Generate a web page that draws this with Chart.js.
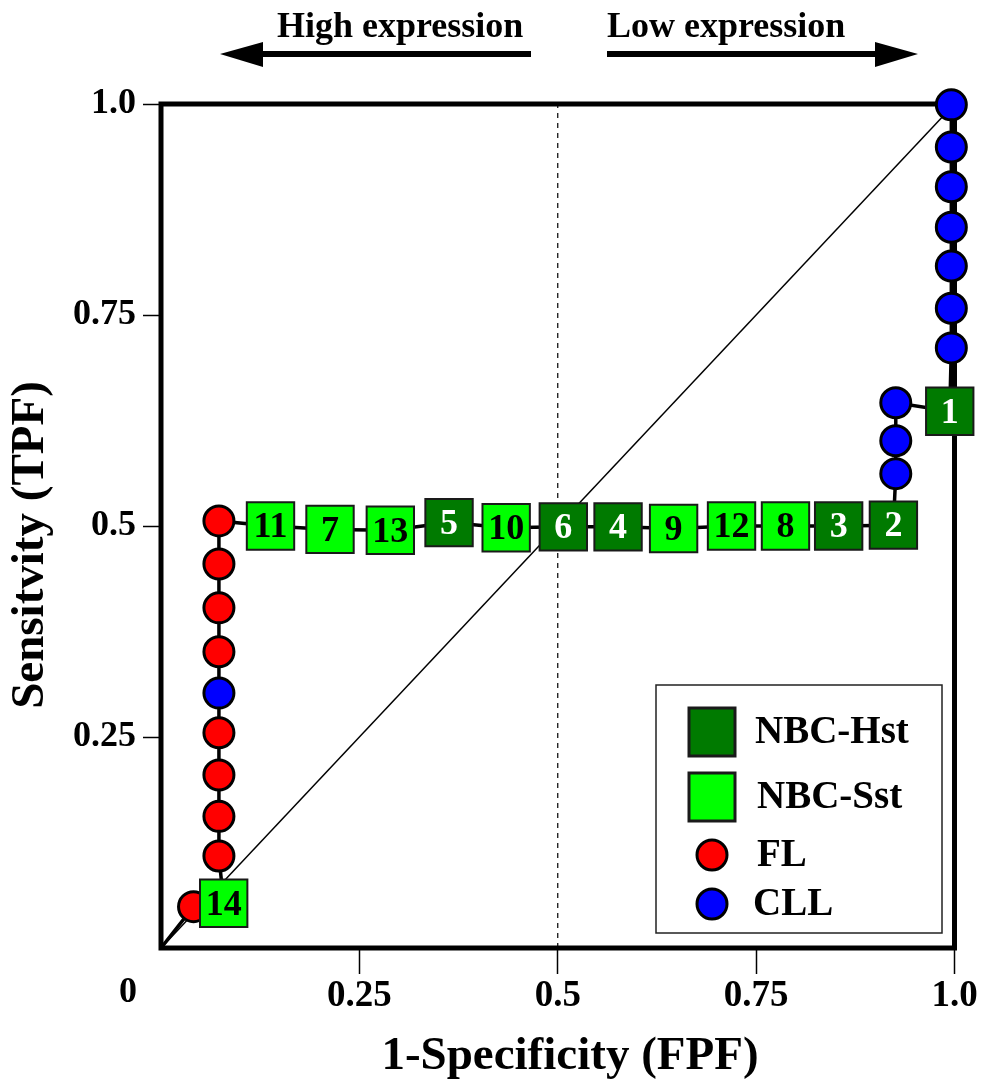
<!DOCTYPE html>
<html><head><meta charset="utf-8">
<script src="https://cdn.jsdelivr.net/npm/chart.js@4.4.0/dist/chart.umd.min.js"></script>
<style>html,body{margin:0;padding:0;background:#fff}#wrap{width:990px;height:1087px}</style>
</head><body><div id="wrap"><canvas id="c" width="990" height="1087"></canvas></div>
<script>
// ROC samples in threshold order (x = 1-Specificity, y = Sensitivity)
const rocGroup = ['FL','NBC-Sst','FL','FL','FL','FL','CLL','FL','FL','FL','FL',
  'NBC-Sst','NBC-Sst','NBC-Sst','NBC-Hst','NBC-Sst','NBC-Hst','NBC-Hst','NBC-Sst','NBC-Sst','NBC-Sst','NBC-Hst','NBC-Hst',
  'CLL','CLL','CLL','NBC-Hst','CLL','CLL','CLL','CLL','CLL','CLL','CLL'];
const rocLabel = ['','14','','','','','','','','','',
  '11','7','13','5','10','6','4','9','12','8','3','2',
  '','','','1','','','','','','',''];
const rocX = [0.041,0.079,0.073,0.073,0.073,0.073,0.073,0.073,0.073,0.073,0.073,
  0.138,0.213,0.289,0.363,0.435,0.507,0.576,0.646,0.719,0.787,0.854,0.923,
  0.926,0.926,0.926,0.994,0.996,0.996,0.996,0.996,0.996,0.996,0.996];
const rocY = [0.049,0.053,0.109,0.156,0.205,0.255,0.302,0.351,0.403,0.455,0.506,
  0.500,0.496,0.495,0.504,0.498,0.499,0.499,0.497,0.500,0.500,0.500,0.501,
  0.562,0.601,0.646,0.636,0.711,0.758,0.808,0.854,0.902,0.949,0.999];
const rocOrigin = [0, 0];
const diagonal = [[0,0],[1,1]];
const midLine = [[0.5,0],[0.5,1]];
const xTicks = [0, 0.25, 0.5, 0.75, 1.0];
const xTickLabels = ['0','0.25','0.5','0.75','1.0'];
const yTicks = [0, 0.25, 0.5, 0.75, 1.0];
const yTickLabels = ['0','0.25','0.5','0.75','1.0'];
const seriesNames = ['NBC-Hst','NBC-Sst','FL','CLL'];
const topLabels = ['High expression','Low expression'];
const xTitle = '1-Specificity (FPF)';
const yTitle = 'Sensitvity (TPF)';

const SERIF = '"Liberation Serif", "DejaVu Serif", serif';
const styleOf = {
  'NBC-Hst': {bg:'#007a00', shape:'rect', r:33.5, bw:2, bc:'#1a1a1a', txt:'#ffffff'},
  'NBC-Sst': {bg:'#00ff00', shape:'rect', r:33.5, bw:2, bc:'#1a1a1a', txt:'#000000'},
  'FL':      {bg:'#ff0000', shape:'circle', r:15, bw:3, bc:'#000000'},
  'CLL':     {bg:'#0000ff', shape:'circle', r:15, bw:3, bc:'#000000'}
};

function pts(name){
  const d=[], n=[];
  rocGroup.forEach((g,i)=>{ if(g===name){ d.push({x:rocX[i],y:rocY[i]}); n.push(rocLabel[i]); } });
  return {d,n};
}

const datasets = [];
['NBC-Hst','NBC-Sst','FL','CLL'].forEach(name=>{
  const s = styleOf[name]; const p = pts(name);
  datasets.push({
    label:name, data:p.d, numbers:p.n, isMarker:true,
    pointStyle:s.shape, pointRadius:s.r, pointHoverRadius:s.r,
    backgroundColor:s.bg, pointBackgroundColor:s.bg,
    borderColor:s.bc, pointBorderColor:s.bc, pointBorderWidth:s.bw,
    showLine:false, clip:false,
    order: (s.shape==='rect') ? 1 : 2
  });
});
datasets.push({
  label:'path', data:[{x:rocOrigin[0],y:rocOrigin[1]}].concat(rocX.map((x,i)=>({x:x,y:rocY[i]}))),
  showLine:true, borderColor:'#000', borderWidth:3.5, pointRadius:0, pointHoverRadius:0, fill:false, clip:false, order:5
});
datasets.push({
  label:'diag', data:diagonal.map(p=>({x:p[0],y:p[1]})), showLine:true, borderColor:'#000', borderWidth:1.5,
  pointRadius:0, pointHoverRadius:0, clip:false, order:8
});
datasets.push({
  label:'mid', data:midLine.map(p=>({x:p[0],y:p[1]})), showLine:true, borderColor:'#000', borderWidth:1.2,
  borderDash:[5,5], pointRadius:0, pointHoverRadius:0, clip:false, order:9
});

const framePlugin = {
  id:'frame',
  beforeDatasetsDraw(chart){
    const {ctx, chartArea:a} = chart;
    ctx.save(); ctx.strokeStyle='#000'; ctx.lineWidth=5;
    ctx.strokeRect(a.left, a.top, a.right-a.left, a.bottom-a.top);
    ctx.restore();
  }
};

const labelPlugin = {
  id:'labels',
  afterDatasetsDraw(chart){
    const ctx = chart.ctx;
    ctx.save();
    ctx.font = 'bold 36px ' + SERIF;
    ctx.textAlign='center'; ctx.textBaseline='middle';
    chart.data.datasets.forEach((ds,di)=>{
      if(!ds.isMarker || !ds.numbers) return;
      const meta = chart.getDatasetMeta(di);
      meta.data.forEach((el,i)=>{
        const t = ds.numbers[i]; if(!t) return;
        ctx.fillStyle = styleOf[ds.label].txt;
        ctx.fillText(t, el.x, el.y+2);
      });
    });
    ctx.restore();
  }
};

const decoPlugin = {
  id:'deco',
  afterDraw(chart){
    const ctx = chart.ctx, xs = chart.scales.x;
    ctx.save();
    ctx.fillStyle='#000';
    // origin "0" label
    ctx.font = 'bold 36px ' + SERIF;
    ctx.textAlign='center'; ctx.textBaseline='middle';
    ctx.fillText(xTickLabels[0], xs.getPixelForValue(0)-33, 993);
    // axis titles
    ctx.font = 'bold 47px ' + SERIF;
    ctx.fillText(xTitle, 570, 1057);
    ctx.save();
    ctx.translate(31, 545); ctx.rotate(-Math.PI/2);
    ctx.font = 'bold 47px ' + SERIF;
    ctx.fillText(yTitle, 0, 0);
    ctx.restore();
    // top arrows & labels
    ctx.font = 'bold 36px ' + SERIF;
    ctx.textAlign='left'; ctx.textBaseline='alphabetic';
    ctx.fillText(topLabels[0], 277, 37);
    ctx.fillText(topLabels[1], 607, 37);
    const ay = 54;
    ctx.fillRect(258, ay-3, 531-258, 6);
    ctx.beginPath(); ctx.moveTo(220, ay); ctx.lineTo(263, ay-12); ctx.lineTo(263, ay+13); ctx.closePath(); ctx.fill();
    ctx.fillRect(607, ay-3, 878-607, 6);
    ctx.beginPath(); ctx.moveTo(918, ay); ctx.lineTo(875, ay-12); ctx.lineTo(875, ay+13); ctx.closePath(); ctx.fill();
    // legend
    const L = 656, T = 685, W = 286, H = 248;
    ctx.lineWidth = 1.5; ctx.strokeStyle = '#222';
    ctx.strokeRect(L, T, W, H);
    const rowsY = [732, 797, 855, 904];
    const textX = [755, 757, 757, 753];
    seriesNames.forEach((name,i)=>{
      const s = styleOf[name];
      const cx = 712, cy = rowsY[i];
      ctx.fillStyle = s.bg; ctx.strokeStyle = s.bc; ctx.lineWidth = 3;
      if (s.shape === 'rect') {
        ctx.fillRect(cx-23, cy-24, 46, 48); ctx.strokeRect(cx-23, cy-24, 46, 48);
      } else {
        ctx.beginPath(); ctx.arc(cx, cy, 15, 0, Math.PI*2); ctx.fill(); ctx.stroke();
      }
      ctx.fillStyle = '#000';
      ctx.font = 'bold 39px ' + SERIF;
      ctx.textAlign = 'left'; ctx.textBaseline = 'middle';
      ctx.fillText(name, textX[i], cy+1);
    });
    ctx.restore();
  }
};

new Chart(document.getElementById('c'), {
  type:'scatter',
  data:{datasets},
  options:{
    responsive:false, animation:false, devicePixelRatio:1, events:[],
    layout:{padding:{left:0, right:33, top:104, bottom:0}},
    plugins:{legend:{display:false}, tooltip:{enabled:false}},
    scales:{
      x:{
        type:'linear', min:0, max:1, position:'bottom',
        afterBuildTicks:(s)=>{ s.ticks = xTicks.map(v=>({value:v})); },
        afterFit:(s)=>{ s.height = 139; },
        ticks:{ autoSkip:false, maxRotation:0, color:'#000', padding:0,
          font:{family:SERIF, size:37, weight:'bold'},
          callback:(v)=> v===0 ? '' : xTickLabels[xTicks.indexOf(v)] },
        grid:{ drawOnChartArea:false, drawTicks:true, tickLength:26, tickWidth:1.5,
          tickColor:(c)=> (c.tick && c.tick.value===0) ? 'rgba(0,0,0,0)' : '#000' },
        border:{display:false},
        title:{display:false}
      },
      y:{
        type:'linear', min:0, max:1, position:'left',
        afterBuildTicks:(s)=>{ s.ticks = yTicks.map(v=>({value:v})); },
        afterFit:(s)=>{ s.width = 161; },
        ticks:{ autoSkip:false, color:'#000', padding:7,
          font:{family:SERIF, size:36, weight:'bold'},
          callback:(v)=> v===0 ? '' : yTickLabels[yTicks.indexOf(v)] },
        grid:{ drawOnChartArea:false, drawTicks:true, tickLength:18, tickWidth:1.5,
          tickColor:(c)=> (c.tick && c.tick.value===0) ? 'rgba(0,0,0,0)' : '#000' },
        border:{display:false},
        title:{display:false}
      }
    }
  },
  plugins:[framePlugin, labelPlugin, decoPlugin]
});
</script></body></html>
